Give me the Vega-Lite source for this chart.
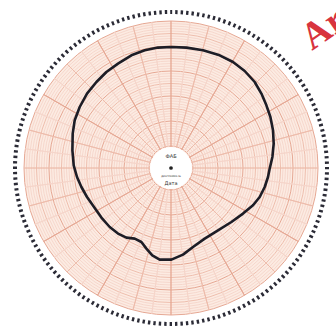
{
  "$schema": "https://vega.github.io/schema/vega-lite/v6.json",
  "width": 330,
  "height": 322,
  "padding": {"left": 6, "top": 7, "right": 0, "bottom": 0},
  "autosize": {"type": "none"},
  "background": "white",
  "config": {"view": {"stroke": null}},
  "datasets": {
    "rings": [
      {"r": 22, "kind": "major"}, {"r": 24.5, "kind": "minor"}, {"r": 27, "kind": "minor"}, {"r": 29.5, "kind": "minor"}, {"r": 32, "kind": "minor"},
      {"r": 34.5, "kind": "mid"}, {"r": 37, "kind": "minor"}, {"r": 39.5, "kind": "minor"}, {"r": 42, "kind": "minor"}, {"r": 44.5, "kind": "minor"},
      {"r": 47, "kind": "major"}, {"r": 49.5, "kind": "minor"}, {"r": 52, "kind": "minor"}, {"r": 54.5, "kind": "minor"}, {"r": 57, "kind": "minor"},
      {"r": 59.5, "kind": "mid"}, {"r": 62, "kind": "minor"}, {"r": 64.5, "kind": "minor"}, {"r": 67, "kind": "minor"}, {"r": 69.5, "kind": "minor"},
      {"r": 72, "kind": "major"}, {"r": 74.5, "kind": "minor"}, {"r": 77, "kind": "minor"}, {"r": 79.5, "kind": "minor"}, {"r": 82, "kind": "minor"},
      {"r": 84.5, "kind": "mid"}, {"r": 87, "kind": "minor"}, {"r": 89.5, "kind": "minor"}, {"r": 92, "kind": "minor"}, {"r": 94.5, "kind": "minor"},
      {"r": 97, "kind": "major"}, {"r": 99.5, "kind": "minor"}, {"r": 102, "kind": "minor"}, {"r": 104.5, "kind": "minor"}, {"r": 107, "kind": "minor"},
      {"r": 109.5, "kind": "mid"}, {"r": 112, "kind": "minor"}, {"r": 114.5, "kind": "minor"}, {"r": 117, "kind": "minor"}, {"r": 119.5, "kind": "minor"},
      {"r": 122, "kind": "major"}, {"r": 124.5, "kind": "minor"}, {"r": 127, "kind": "minor"}, {"r": 129.5, "kind": "minor"}, {"r": 132, "kind": "minor"},
      {"r": 134.5, "kind": "mid"}, {"r": 137, "kind": "minor"}, {"r": 139.5, "kind": "minor"}, {"r": 142, "kind": "minor"}, {"r": 144.5, "kind": "minor"},
      {"r": 147, "kind": "major"}
    ],
    "spokes": [
      {"a": 0, "kind": "vaxis"}, {"a": 7.5, "kind": "minor"}, {"a": 15, "kind": "mid"}, {"a": 22.5, "kind": "minor"},
      {"a": 30, "kind": "major"}, {"a": 37.5, "kind": "minor"}, {"a": 45, "kind": "mid"}, {"a": 52.5, "kind": "minor"},
      {"a": 60, "kind": "major"}, {"a": 67.5, "kind": "minor"}, {"a": 75, "kind": "mid"}, {"a": 82.5, "kind": "minor"},
      {"a": 90, "kind": "haxis"}, {"a": 97.5, "kind": "minor"}, {"a": 105, "kind": "mid"}, {"a": 112.5, "kind": "minor"},
      {"a": 120, "kind": "major"}, {"a": 127.5, "kind": "minor"}, {"a": 135, "kind": "mid"}, {"a": 142.5, "kind": "minor"},
      {"a": 150, "kind": "major"}, {"a": 157.5, "kind": "minor"}, {"a": 165, "kind": "mid"}, {"a": 172.5, "kind": "minor"},
      {"a": 180, "kind": "vaxis"}, {"a": 187.5, "kind": "minor"}, {"a": 195, "kind": "mid"}, {"a": 202.5, "kind": "minor"},
      {"a": 210, "kind": "major"}, {"a": 217.5, "kind": "minor"}, {"a": 225, "kind": "mid"}, {"a": 232.5, "kind": "minor"},
      {"a": 240, "kind": "major"}, {"a": 247.5, "kind": "minor"}, {"a": 255, "kind": "mid"}, {"a": 262.5, "kind": "minor"},
      {"a": 270, "kind": "haxis"}, {"a": 277.5, "kind": "minor"}, {"a": 285, "kind": "mid"}, {"a": 292.5, "kind": "minor"},
      {"a": 300, "kind": "major"}, {"a": 307.5, "kind": "minor"}, {"a": 315, "kind": "mid"}, {"a": 322.5, "kind": "minor"},
      {"a": 330, "kind": "major"}, {"a": 337.5, "kind": "minor"}, {"a": 345, "kind": "mid"}, {"a": 352.5, "kind": "minor"}
    ],
    "trace": [
      {"i": 1, "x": 0, "y": 121}, {"i": 2, "x": 15.4, "y": 120.4}, {"i": 3, "x": 32, "y": 117.7}, {"i": 4, "x": 48.7, "y": 112.7},
      {"i": 5, "x": 62, "y": 106}, {"i": 6, "x": 73.7, "y": 97}, {"i": 7, "x": 83.7, "y": 86}, {"i": 8, "x": 90.4, "y": 74.4},
      {"i": 9, "x": 95.4, "y": 62.7}, {"i": 10, "x": 99.4, "y": 51}, {"i": 11, "x": 102, "y": 37.7}, {"i": 12, "x": 102.7, "y": 24.4},
      {"i": 13, "x": 101.4, "y": 11}, {"i": 14, "x": 98.7, "y": -0.6}, {"i": 15, "x": 97, "y": -9}, {"i": 16, "x": 93.7, "y": -19},
      {"i": 17, "x": 88.7, "y": -29}, {"i": 18, "x": 82, "y": -37.3}, {"i": 19, "x": 72, "y": -45.6}, {"i": 20, "x": 60.4, "y": -54},
      {"i": 21, "x": 47, "y": -62.3}, {"i": 22, "x": 33.7, "y": -70.6}, {"i": 23, "x": 22, "y": -79}, {"i": 24, "x": 12, "y": -86.6},
      {"i": 25, "x": 0.4, "y": -91.6}, {"i": 26, "x": -11.3, "y": -91.6}, {"i": 27, "x": -18.7, "y": -87.3}, {"i": 28, "x": -24.6, "y": -80.6},
      {"i": 29, "x": -29.6, "y": -74}, {"i": 30, "x": -36.3, "y": -70.6}, {"i": 31, "x": -44.6, "y": -69.6}, {"i": 32, "x": -53, "y": -65.6},
      {"i": 33, "x": -61.3, "y": -59}, {"i": 34, "x": -69.6, "y": -49.6}, {"i": 35, "x": -77, "y": -39}, {"i": 36, "x": -84, "y": -29},
      {"i": 37, "x": -89.6, "y": -19}, {"i": 38, "x": -94, "y": -9}, {"i": 39, "x": -97.3, "y": 2.7}, {"i": 40, "x": -98.6, "y": 17.7},
      {"i": 41, "x": -98.3, "y": 34.4}, {"i": 42, "x": -96.3, "y": 47.7}, {"i": 43, "x": -91.3, "y": 61}, {"i": 44, "x": -84, "y": 74.4},
      {"i": 45, "x": -74.6, "y": 86}, {"i": 46, "x": -64.6, "y": 96}, {"i": 47, "x": -53, "y": 104.4}, {"i": 48, "x": -39.6, "y": 112.7},
      {"i": 49, "x": -26.3, "y": 117.7}, {"i": 50, "x": -13, "y": 120.4}, {"i": 51, "x": 0, "y": 121}
    ],
    "labels": [
      {"x": 0, "y": 12, "t": "ФАБ", "s": 5, "w": "bold"},
      {"x": 0, "y": -8, "t": "ДИАГРАММА №", "s": 2.5, "w": "normal"},
      {"x": 0, "y": -15, "t": "Дата", "s": 5, "w": "bold"}
    ],
    "brand": [{"x": 141, "y": 117, "t": "Ar"}],
    "center": [{"x": 0, "y": 0}]
  },
  "layer": [
    {
      "data": {"values": [{"r0": 0, "r1": 147}]},
      "mark": {"type": "arc", "fill": "#fcebe2", "stroke": null},
      "encoding": {
        "theta": {"datum": 0, "type": "quantitative", "scale": {"domain": [0, 360], "range": [0, 6.283185307179586]}},
        "theta2": {"datum": 360},
        "radius": {"field": "r1", "type": "quantitative", "scale": {"type": "linear", "domain": [0, 160], "range": [0, 160], "zero": true, "nice": false}},
        "radius2": {"field": "r0"}
      }
    },
    {
      "data": {"name": "rings"},
      "mark": {"type": "arc", "filled": false},
      "encoding": {
        "theta": {"datum": 0, "type": "quantitative", "scale": {"domain": [0, 360], "range": [0, 6.283185307179586]}},
        "theta2": {"datum": 360},
        "radius": {"field": "r", "type": "quantitative", "scale": {"type": "linear", "domain": [0, 160], "range": [0, 160], "zero": true, "nice": false}},
        "radius2": {"datum": 0},
        "color": {"field": "kind", "type": "nominal", "scale": {"domain": ["major", "mid", "minor"], "range": ["#e6a894", "#edbcab", "#f5d5ca"]}, "legend": null},
        "strokeWidth": {"field": "kind", "type": "nominal", "scale": {"domain": ["major", "mid", "minor"], "range": [1, 0.8, 0.6]}, "legend": null}
      }
    },
    {
      "data": {"name": "spokes"},
      "mark": {"type": "arc", "filled": false},
      "encoding": {
        "theta": {"field": "a", "type": "quantitative", "stack": null, "scale": {"domain": [0, 360], "range": [0, 6.283185307179586]}},
        "theta2": {"field": "a"},
        "radius": {"datum": 147, "type": "quantitative", "scale": {"type": "linear", "domain": [0, 160], "range": [0, 160], "zero": true, "nice": false}},
        "radius2": {"datum": 21},
        "color": {"field": "kind", "type": "nominal", "scale": {"domain": ["vaxis", "haxis", "major", "mid", "minor"], "range": ["#efc07c", "#e69c8e", "#e4a390", "#ecb8a8", "#f1c8bb"]}, "legend": null},
        "strokeWidth": {"field": "kind", "type": "nominal", "scale": {"domain": ["vaxis", "haxis", "major", "mid", "minor"], "range": [1.2, 1.2, 1, 0.8, 0.6]}, "legend": null}
      }
    },
    {
      "data": {"values": [{"r0": 0, "r1": 21}]},
      "mark": {"type": "arc", "fill": "white", "stroke": null},
      "encoding": {
        "theta": {"datum": 0, "type": "quantitative", "scale": {"domain": [0, 360], "range": [0, 6.283185307179586]}},
        "theta2": {"datum": 360},
        "radius": {"field": "r1", "type": "quantitative", "scale": {"type": "linear", "domain": [0, 160], "range": [0, 160], "zero": true, "nice": false}},
        "radius2": {"field": "r0"}
      }
    },
    {
      "data": {"values": [{"r": 156}]},
      "mark": {"type": "arc", "filled": false, "stroke": "#2b2b36", "strokeWidth": 4, "strokeDash": [2.4, 3.0454], "strokeDashOffset": 1.2},
      "encoding": {
        "theta": {"datum": 0, "type": "quantitative", "scale": {"domain": [0, 360], "range": [0, 6.283185307179586]}},
        "theta2": {"datum": 360},
        "radius": {"field": "r", "type": "quantitative", "scale": {"type": "linear", "domain": [0, 160], "range": [0, 160], "zero": true, "nice": false}},
        "radius2": {"datum": 0}
      }
    },
    {
      "data": {"name": "trace"},
      "mark": {"type": "line", "color": "#1d1d26", "strokeWidth": 2.6, "interpolate": "linear", "strokeJoin": "round"},
      "encoding": {
        "x": {"field": "x", "type": "quantitative", "scale": {"domain": [-165, 165], "range": [0, 330], "nice": false, "zero": false}, "axis": null},
        "y": {"field": "y", "type": "quantitative", "scale": {"domain": [-161, 161], "range": [322, 0], "nice": false, "zero": false}, "axis": null},
        "order": {"field": "i", "type": "quantitative"}
      }
    },
    {
      "data": {"name": "center"},
      "mark": {"type": "point", "filled": true, "color": "#222", "size": 14, "opacity": 1},
      "encoding": {
        "x": {"field": "x", "type": "quantitative", "scale": {"domain": [-165, 165], "range": [0, 330], "nice": false, "zero": false}, "axis": null},
        "y": {"field": "y", "type": "quantitative", "scale": {"domain": [-161, 161], "range": [322, 0], "nice": false, "zero": false}, "axis": null}
      }
    },
    {
      "data": {"name": "labels"},
      "mark": {"type": "text", "color": "#333", "font": "DejaVu Sans", "align": "center", "baseline": "middle"},
      "encoding": {
        "x": {"field": "x", "type": "quantitative", "scale": {"domain": [-165, 165], "range": [0, 330], "nice": false, "zero": false}, "axis": null},
        "y": {"field": "y", "type": "quantitative", "scale": {"domain": [-161, 161], "range": [322, 0], "nice": false, "zero": false}, "axis": null},
        "text": {"field": "t"},
        "size": {"field": "s", "type": "quantitative", "scale": null},
        "fontWeight": {"field": "w", "type": "nominal", "scale": null}
      }
    },
    {
      "data": {"name": "brand"},
      "mark": {"type": "text", "color": "#d8343e", "font": "Liberation Serif", "fontWeight": "bold", "fontSize": 38, "angle": -35, "align": "left", "baseline": "alphabetic"},
      "encoding": {
        "x": {"field": "x", "type": "quantitative", "scale": {"domain": [-165, 165], "range": [0, 330], "nice": false, "zero": false}, "axis": null},
        "y": {"field": "y", "type": "quantitative", "scale": {"domain": [-161, 161], "range": [322, 0], "nice": false, "zero": false}, "axis": null},
        "text": {"field": "t"}
      }
    }
  ]
}
